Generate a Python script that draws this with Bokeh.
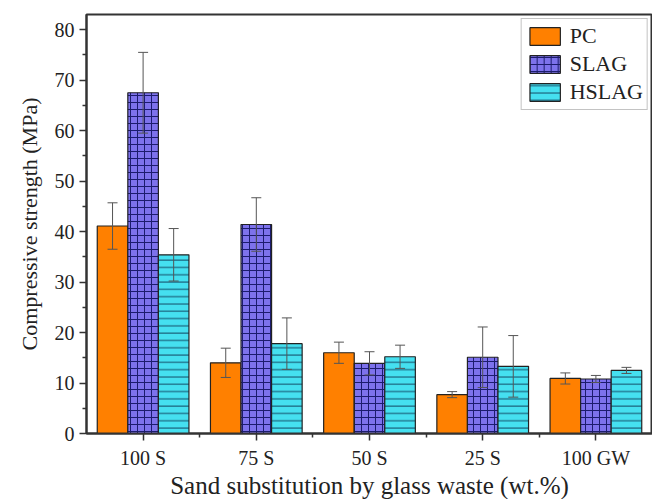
import numpy as np
from bokeh.plotting import figure
from bokeh.models import ColumnDataSource, FixedTicker, Whisker, TeeHead, Legend, LegendItem, Range1d
from bokeh.embed import file_html
from bokeh.resources import INLINE

categories = ["100 S", "75 S", "50 S", "25 S", "100 GW"]
series = ["PC", "SLAG", "HSLAG"]
pc = [41.1, 14.0, 16.0, 7.7, 10.9]
pc_err = [4.6, 2.9, 2.1, 0.6, 1.1]
slag = [67.5, 41.4, 13.9, 15.1, 10.8]
slag_err = [8.0, 5.3, 2.3, 6.0, 0.7]
hslag = [35.4, 17.8, 15.2, 13.3, 12.5]
hslag_err = [5.2, 5.1, 2.3, 6.1, 0.6]
y_ticks = [0, 10, 20, 30, 40, 50, 60, 70, 80]

FONT = "Liberation Serif"
pos = np.arange(1, len(categories) + 1)
offsets = [-0.27, 0.0, 0.27]
bw = 0.27

p = figure(frame_width=566, frame_height=419, width=652, height=499,
           output_backend="svg", toolbar_location=None,
           x_range=Range1d(0.5, 5.5), y_range=Range1d(0, 83))
p.min_border_left = 86
p.min_border_top = 14
p.min_border_right = 0
p.min_border_bottom = 66
p.xgrid.visible = False
p.ygrid.visible = False
p.outline_line_color = "#333333"
p.outline_line_width = 2
p.background_fill_color = "white"
p.border_fill_color = "white"

styles = [
    dict(fill_color="#FF8000", hatch_pattern=None),
    dict(fill_color="#7D72EC", hatch_pattern="+", hatch_color="#1c1c6e", hatch_scale=7.0, hatch_weight=1),
    dict(fill_color="#45E0F0", hatch_pattern="-", hatch_color="#124a66", hatch_scale=7.3, hatch_weight=1),
]
vals = [pc, slag, hslag]
errs = [pc_err, slag_err, hslag_err]
renderers = []
for i, (v, e, off, st) in enumerate(zip(vals, errs, offsets, styles)):
    v = np.array(v); e = np.array(e)
    src = ColumnDataSource(dict(x=pos + off, top=v, up=v + e, lo=v - e))
    kw = dict(st)
    if kw["hatch_pattern"] is None:
        kw.pop("hatch_pattern")
    r = p.vbar(x="x", top="top", width=bw, bottom=0, source=src,
               line_color="#222222", line_width=1.2, **kw)
    renderers.append(r)
    w = Whisker(base="x", upper="up", lower="lo", source=src, level="overlay",
                line_color="#555555", line_width=1,
                upper_head=TeeHead(size=10, line_color="#555555", line_width=1),
                lower_head=TeeHead(size=10, line_color="#555555", line_width=1))
    p.add_layout(w)

legend = Legend(items=[LegendItem(label=s, renderers=[r]) for s, r in zip(series, renderers)],
                location="top_right")
legend.label_text_font = FONT
legend.label_text_font_size = "22px"
legend.label_text_color = "#222222"
legend.glyph_width = 38
legend.glyph_height = 22
legend.spacing = 2
legend.padding = 4
legend.margin = 4
legend.label_standoff = 6
legend.border_line_color = "#888888"
legend.border_line_width = 1.5
legend.label_height = 22
p.add_layout(legend)

# axes
p.xaxis.ticker = FixedTicker(ticks=list(pos), minor_ticks=list(pos[:-1] + 0.5))
p.xaxis.major_label_overrides = {int(k): c for k, c in zip(pos, categories)}
p.yaxis.ticker = FixedTicker(ticks=y_ticks, minor_ticks=[5, 15, 25, 35, 45, 55, 65, 75])
p.xaxis.axis_label = "Sand substitution by glass waste (wt.%)"
p.yaxis.axis_label = "Compressive strength (MPa)"
for ax in (p.xaxis[0], p.yaxis[0]):
    ax.axis_label_text_font = FONT
    ax.axis_label_text_font_style = "normal"
    ax.axis_label_text_color = "#222222"
    ax.major_label_text_font = FONT
    ax.major_label_text_font_size = "20px"
    ax.major_label_text_color = "#222222"
    ax.axis_line_color = "#333333"
    ax.axis_line_width = 2
    ax.major_tick_line_color = "#333333"
    ax.major_tick_line_width = 1.5
    ax.minor_tick_line_color = "#333333"
    ax.minor_tick_line_width = 1.5
    ax.major_tick_out = 7
    ax.major_tick_in = 0
    ax.minor_tick_out = 4
    ax.minor_tick_in = 0
p.xaxis.axis_label_text_font_size = "25px"
p.yaxis.axis_label_text_font_size = "22px"
p.xaxis.axis_label_standoff = 0
p.yaxis.axis_label_standoff = 10
p.xaxis.major_label_standoff = 6

open("out.html", "w").write(file_html(p, INLINE))
